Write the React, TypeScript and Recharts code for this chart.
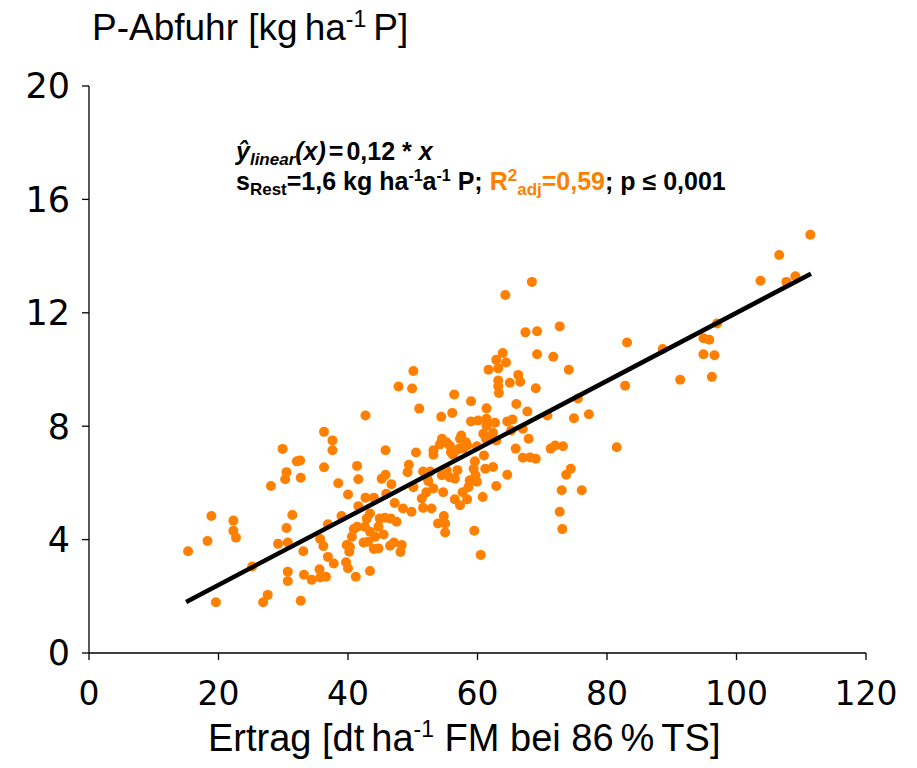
import React from "react";
import { ScatterChart, Scatter, XAxis, YAxis } from "recharts";

// Ertrag [dt/ha] and P-Abfuhr [kg/ha P]
const ertrag = [
  47.8, 42.7, 36.3, 37.6, 37.6, 29.9, 32.1, 32.6, 36.3, 45.8, 41.4, 30.5, 30.3, 32.7, 28.1, 38.5,
  41.6, 45.2, 45.8, 46.7, 40.0, 42.7, 44.0, 45.9, 47.2, 41.6, 39.0, 18.9, 22.3, 22.3, 22.7, 18.3,
  15.3, 31.4, 30.5, 29.2, 30.7, 25.2, 33.1, 36.9, 35.7, 36.2, 36.9, 37.8, 39.7, 40.0, 41.2, 43.4,
  30.7, 30.7, 33.2, 34.4, 35.6, 35.7, 36.6, 19.6, 26.9, 27.6, 32.7, 39.8, 40.3, 40.2, 40.6, 40.9,
  41.4, 42.4, 43.1, 42.9, 43.4, 42.6, 43.4, 44.2, 44.7, 44.9, 45.7, 45.5, 44.7, 44.0, 46.6, 47.5,
  46.5, 47.1, 48.1, 48.3, 68.4, 64.3, 72.7, 67.4, 69.2, 83.1, 69.2, 71.7, 74.1, 63.9, 62.9, 64.4,
  63.2, 61.7, 66.3, 66.6, 65.0, 63.2, 63.2, 63.3, 69.0, 82.8, 50.1, 49.9, 56.4, 51.0, 59.0, 54.4,
  56.1, 61.4, 66.0, 67.7, 75.5, 77.2, 74.9, 70.8, 59.0, 60.1, 61.4, 62.7, 64.6, 65.4, 67.0, 65.2,
  61.4, 67.9, 60.9, 61.3, 62.4, 62.9, 61.9, 57.5, 58.2, 58.4, 57.3, 57.8, 54.5, 54.2, 55.2, 55.7,
  55.9, 56.7, 57.2, 56.2, 59.9, 61.0, 59.6, 59.4, 59.7, 65.9, 71.3, 72.0, 73.2, 81.5, 67.0, 68.1,
  69.0, 53.2, 53.2, 50.5, 49.4, 49.2, 51.6, 52.7, 52.2, 54.5, 55.2, 55.7, 56.5, 56.9, 61.2, 62.4,
  64.6, 74.4, 73.7, 73.0, 76.1, 72.7, 73.1, 50.1, 52.4, 53.2, 54.7, 52.1, 51.4, 52.9, 51.6, 56.5,
  57.3, 58.4, 57.7, 58.6, 58.8, 59.9, 60.8, 62.9, 48.5, 49.8, 53.9, 54.8, 55.0, 55.0, 59.5, 60.5,
  111.4, 106.6, 103.7, 107.7, 109.1, 97.0, 94.9, 95.8, 94.9, 96.6, 96.2, 91.3, 88.6,
];

const pAbfuhr = [
  9.4, 8.38, 7.8, 7.5, 7.15, 7.2, 6.76, 6.79, 6.55, 7.15, 6.6, 6.38, 6.13, 6.18, 5.89, 5.99,
  6.13, 6.15, 6.29, 5.95, 5.59, 5.48, 5.48, 5.62, 5.29, 5.18, 4.83, 4.83, 4.67, 4.31, 4.07, 3.95,
  3.59, 4.87, 4.41, 3.85, 3.9, 3.05, 3.59, 4.54, 4.02, 3.77, 3.39, 3.16, 3.2, 2.99, 2.69, 2.89,
  2.87, 2.54, 2.76, 2.58, 2.95, 2.66, 2.69, 1.79, 1.79, 2.05, 1.84, 3.81, 3.74, 3.57, 4.1, 4.37,
  4.45, 3.9, 3.92, 4.74, 4.92, 4.45, 4.28, 4.1, 4.45, 4.74, 4.77, 4.18, 3.69, 3.67, 4.74, 4.63,
  3.78, 3.9, 3.56, 3.81, 13.09, 12.63, 11.52, 11.31, 11.35, 10.95, 10.54, 10.45, 9.99, 10.58, 10.34, 10.25,
  10.04, 9.99, 9.81, 9.57, 9.53, 9.61, 9.41, 9.17, 9.34, 9.43, 9.95, 9.33, 9.12, 8.62, 8.88, 8.33,
  8.47, 8.63, 8.78, 8.52, 8.98, 8.42, 8.28, 8.38, 8.17, 8.2, 8.26, 8.12, 8.17, 8.24, 7.91, 7.85,
  8.02, 7.56, 7.73, 7.56, 7.77, 7.5, 7.62, 7.67, 7.43, 7.32, 7.56, 7.21, 7.56, 7.36, 7.43, 7.32,
  7.08, 7.15, 7.21, 6.99, 7.29, 6.97, 6.76, 6.5, 6.27, 7.21, 7.21, 7.32, 7.29, 7.26, 6.89, 6.9,
  6.85, 7.15, 6.99, 7.07, 6.64, 6.38, 6.4, 6.4, 6.2, 6.27, 6.45, 6.2, 6.15, 6.45, 6.5, 6.56,
  6.29, 6.5, 6.29, 5.74, 5.74, 4.98, 4.37, 5.85, 6.06, 5.8, 5.67, 5.67, 5.45, 5.1, 5.12, 5.42,
  5.21, 5.42, 5.67, 5.85, 6.09, 6.04, 5.5, 5.89, 5.1, 4.98, 4.57, 4.83, 4.57, 4.25, 4.31, 3.46,
  14.75, 14.04, 13.13, 13.09, 13.29, 11.62, 11.1, 11.05, 10.54, 10.5, 9.74, 9.64, 10.72,
];

// fitted line y = 0.12 * x, end points
const fitX = [15, 111.5];
const fitY = [1.8, 13.38];

const xTicks = [0, 20, 40, 60, 80, 100, 120];
const yTicks = [0, 4, 8, 12, 16, 20];

const ORANGE = "#FF8000";

const points = ertrag.map((x, i) => ({ x, y: pAbfuhr[i] }));
const fitLine = fitX.map((x, i) => ({ x, y: fitY[i] }));

const Dot = (props: any) => (
  <circle cx={props.cx} cy={props.cy} r={5} fill={ORANGE} />
);

export default function App() {
  return (
    <div style={{ position: "absolute", left: 0, top: 0, width: 917, height: 768, background: "#fff" }}>
      <ScatterChart
        width={917}
        height={768}
        margin={{ top: 86, right: 51, left: 0, bottom: 0 }}
      >
        <XAxis
          type="number"
          dataKey="x"
          domain={[0, 120]}
          ticks={xTicks}
          interval={0}
          height={115}
          tickSize={7}
          tickMargin={22}
          axisLine={{ stroke: "#000", strokeWidth: 1.3 }}
          tickLine={{ stroke: "#000", strokeWidth: 1.3 }}
          tick={{ fill: "#000", fontSize: 33, fontFamily: "DejaVu Sans" }}
        />
        <YAxis
          type="number"
          dataKey="y"
          domain={[0, 20]}
          ticks={yTicks}
          interval={0}
          width={89}
          tickSize={7}
          tickMargin={12}
          axisLine={{ stroke: "#000", strokeWidth: 1.3 }}
          tickLine={{ stroke: "#000", strokeWidth: 1.3 }}
          tick={{ fill: "#000", fontSize: 35, fontFamily: "DejaVu Sans" }}
        />
        <Scatter data={points} shape={Dot} isAnimationActive={false} />
        <Scatter
          data={fitLine}
          line={{ stroke: "#000", strokeWidth: 4.5 }}
          shape={() => <g />}
          isAnimationActive={false}
        />
      </ScatterChart>

      <svg
        width={917}
        height={768}
        style={{ position: "absolute", left: 0, top: 0, pointerEvents: "none" }}
      >
        <text x={92} y={40} fontSize={37} fontFamily="Liberation Sans, Arial" fill="#000">
          P-Abfuhr [kg<tspan dx={7}>ha</tspan>
          <tspan dy={-13} fontSize={23}>-1</tspan>
          <tspan dy={13} dx={7}>P]</tspan>
        </text>

        <g fontFamily="Liberation Sans, Arial" fontWeight="bold" fontSize={25} fill="#000">
          <text x={236} y={160}>
            <tspan fontStyle="italic">ŷ</tspan>
            <tspan fontStyle="italic" fontSize={17} dy={5}>linear</tspan>
            <tspan dy={-5} fontStyle="italic">(x)</tspan>
            <tspan dx={3}>=</tspan>
            <tspan dx={3}>0,12 * </tspan>
            <tspan fontStyle="italic">x</tspan>
          </text>
          <text x={236} y={190}>
            s<tspan fontSize={17} dy={5}>Rest</tspan>
            <tspan dy={-5}>=1,6 kg ha</tspan>
            <tspan fontSize={16} dy={-9}>-1</tspan>
            <tspan dy={9}>a</tspan>
            <tspan fontSize={16} dy={-9}>-1</tspan>
            <tspan dy={9}> P; </tspan>
            <tspan fill={ORANGE}>R</tspan>
            <tspan fill={ORANGE} fontSize={17} dy={-9}>2</tspan>
            <tspan fill={ORANGE} fontSize={17} dy={14}>adj</tspan>
            <tspan fill={ORANGE} dy={-5}>=0,59</tspan>
            <tspan>; p ≤ 0,001</tspan>
          </text>
        </g>

        <text x={208} y={751} fontSize={38} fontFamily="Liberation Sans, Arial" fill="#000">
          Ertrag [dt<tspan dx={7}>ha</tspan>
          <tspan dy={-14} fontSize={23}>-1</tspan>
          <tspan dy={14}> FM bei 86</tspan>
          <tspan dx={7}>%</tspan>
          <tspan dx={7}>TS]</tspan>
        </text>
      </svg>
    </div>
  );
}
